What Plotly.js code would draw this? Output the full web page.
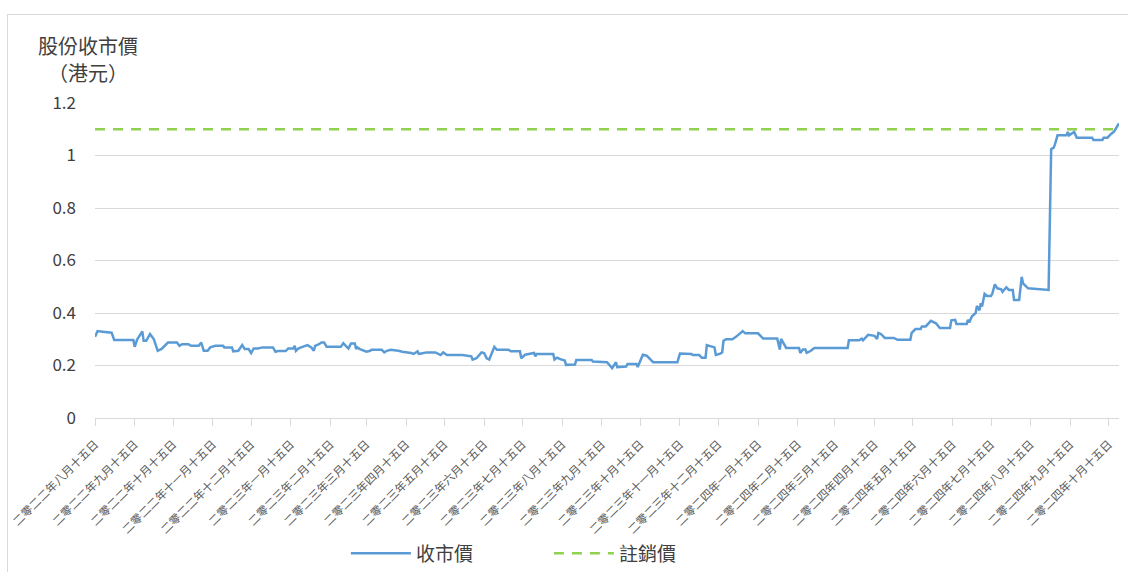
<!DOCTYPE html>
<html>
<head>
<meta charset="utf-8">
<script src="https://cdn.plot.ly/plotly-3.0.1.min.js"></script>
<style>
  html, body { margin: 0; padding: 0; background: #ffffff; }
  #wrap { position: relative; width: 1128px; height: 572px; overflow: hidden; }
  #chart { position: absolute; left: 0; top: 0; width: 1128px; height: 572px; }
  #frame { position: absolute; left: 7px; top: 14px; right: -2px; bottom: -2px;
           border-top: 1px solid #d9d9d9; border-left: 1px solid #d9d9d9; pointer-events: none; }
</style>
</head>
<body>
<div id="wrap"><div id="chart"></div><div id="frame"></div></div>
<script>
// ---- data ----
const dates = [
  '2022-08-15','2022-08-17','2022-08-21','2022-08-28','2022-08-30','2022-09-14','2022-09-15','2022-09-17','2022-09-21','2022-09-22',
  '2022-09-24','2022-09-27','2022-09-30','2022-10-03','2022-10-06','2022-10-11','2022-10-18','2022-10-20','2022-10-22','2022-10-27',
  '2022-10-29','2022-11-04','2022-11-06','2022-11-08','2022-11-11','2022-11-13','2022-11-17','2022-11-23','2022-11-24','2022-11-30',
  '2022-12-01','2022-12-05','2022-12-08','2022-12-10','2022-12-13','2022-12-15','2022-12-17','2022-12-20','2022-12-24','2023-01-01',
  '2023-01-03','2023-01-05','2023-01-11','2023-01-13','2023-01-17','2023-01-18','2023-01-19','2023-01-21','2023-01-28','2023-01-31',
  '2023-02-02','2023-02-03','2023-02-06','2023-02-08','2023-02-10','2023-02-12','2023-02-23','2023-02-25','2023-02-28','2023-03-01',
  '2023-03-03','2023-03-06','2023-03-07','2023-03-08','2023-03-10','2023-03-15','2023-03-18','2023-03-19','2023-03-27','2023-03-29',
  '2023-03-31','2023-04-03','2023-04-09','2023-04-12','2023-04-19','2023-04-21','2023-04-24','2023-04-25','2023-04-27','2023-05-01',
  '2023-05-08','2023-05-10','2023-05-12','2023-05-14','2023-05-17','2023-05-29','2023-06-01','2023-06-05','2023-06-06','2023-06-09',
  '2023-06-13','2023-06-15','2023-06-17','2023-06-19','2023-06-23','2023-06-25','2023-07-04','2023-07-06','2023-07-13','2023-07-14',
  '2023-07-17','2023-07-24','2023-07-25','2023-07-26','2023-08-08','2023-08-09','2023-08-11','2023-08-13','2023-08-17','2023-08-18',
  '2023-08-25','2023-08-26','2023-09-07','2023-09-08','2023-09-19','2023-09-23','2023-09-26','2023-09-27','2023-10-04','2023-10-05',
  '2023-10-12','2023-10-13','2023-10-17','2023-10-20','2023-10-25','2023-11-13','2023-11-15','2023-11-24','2023-11-25','2023-11-30',
  '2023-12-02','2023-12-05','2023-12-06','2023-12-10','2023-12-12','2023-12-13','2023-12-16','2023-12-18','2023-12-19','2023-12-21',
  '2023-12-26','2023-12-29','2024-01-03','2024-01-05','2024-01-15','2024-01-19','2024-01-30','2024-02-01','2024-02-02','2024-02-06',
  '2024-02-16','2024-02-17','2024-02-19','2024-02-21','2024-02-22','2024-02-25','2024-02-28','2024-03-25','2024-03-26','2024-04-03',
  '2024-04-05','2024-04-06','2024-04-10','2024-04-15','2024-04-17','2024-04-18','2024-04-20','2024-04-23','2024-04-30','2024-05-03',
  '2024-05-13','2024-05-14','2024-05-17','2024-05-21','2024-05-22','2024-05-25','2024-05-29','2024-06-02','2024-06-05','2024-06-13',
  '2024-06-14','2024-06-17','2024-06-18','2024-06-26','2024-06-27','2024-06-28','2024-06-30','2024-07-03','2024-07-04','2024-07-06',
  '2024-07-07','2024-07-08','2024-07-10','2024-07-12','2024-07-15','2024-07-16','2024-07-18','2024-07-20','2024-07-23','2024-07-24',
  '2024-07-27','2024-07-29','2024-08-01','2024-08-02','2024-08-06','2024-08-08','2024-08-09','2024-08-13','2024-08-29','2024-08-31',
  '2024-09-02','2024-09-03','2024-09-05','2024-09-12','2024-09-13','2024-09-14','2024-09-17','2024-09-18','2024-09-20','2024-10-02',
  '2024-10-03','2024-10-10','2024-10-11','2024-10-14','2024-10-17','2024-10-19','2024-10-23'
];

const closingPrice = [
  0.31, 0.331, 0.329, 0.325, 0.2975, 0.2975, 0.271, 0.30, 0.33, 0.294,
  0.294, 0.32, 0.30, 0.256, 0.263, 0.2875, 0.2875, 0.275, 0.281, 0.281,
  0.275, 0.275, 0.2875, 0.256, 0.256, 0.269, 0.275, 0.275, 0.269, 0.269,
  0.254, 0.256, 0.278, 0.2625, 0.2625, 0.2475, 0.265, 0.265, 0.269, 0.269,
  0.2525, 0.255, 0.255, 0.265, 0.265, 0.275, 0.256, 0.265, 0.2775, 0.269,
  0.256, 0.275, 0.281, 0.2875, 0.2875, 0.271, 0.271, 0.285, 0.269, 0.265,
  0.284, 0.284, 0.2625, 0.269, 0.2625, 0.2525, 0.256, 0.26, 0.26, 0.25,
  0.256, 0.26, 0.256, 0.2525, 0.2475, 0.244, 0.254, 0.244, 0.246, 0.25,
  0.25, 0.246, 0.24, 0.25, 0.24, 0.24, 0.2375, 0.235, 0.2225, 0.2275,
  0.25, 0.2475, 0.2275, 0.2225, 0.271, 0.26, 0.26, 0.254, 0.254, 0.2275,
  0.241, 0.2475, 0.235, 0.244, 0.244, 0.2225, 0.23, 0.225, 0.219, 0.2025,
  0.204, 0.221, 0.221, 0.215, 0.2125, 0.19, 0.2125, 0.194, 0.196, 0.206,
  0.206, 0.194, 0.241, 0.2375, 0.2125, 0.2125, 0.246, 0.244, 0.24, 0.24,
  0.23, 0.23, 0.2775, 0.2725, 0.269, 0.24, 0.244, 0.25, 0.294, 0.30,
  0.30, 0.31, 0.331, 0.3225, 0.3225, 0.3025, 0.3025, 0.261, 0.301, 0.267,
  0.267, 0.248, 0.261, 0.261, 0.248, 0.255, 0.267, 0.267, 0.296, 0.296,
  0.302, 0.296, 0.317, 0.313, 0.301, 0.324, 0.32, 0.305, 0.305, 0.298,
  0.298, 0.324, 0.339, 0.339, 0.349, 0.349, 0.37, 0.361, 0.343, 0.343,
  0.372, 0.374, 0.358, 0.358, 0.374, 0.364, 0.387, 0.40, 0.427, 0.41,
  0.437, 0.425, 0.473, 0.465, 0.465, 0.473, 0.509, 0.494, 0.49, 0.481,
  0.498, 0.488, 0.488, 0.45, 0.45, 0.538, 0.513, 0.494, 0.488, 1.024,
  1.03, 1.043, 1.077, 1.077, 1.09, 1.077, 1.087, 1.09, 1.068, 1.068,
  1.059, 1.059, 1.068, 1.068, 1.083, 1.09, 1.122
];

const cancellationPrice = 1.1;

const tickDates = [
  '2022-08-15','2022-09-15','2022-10-15','2022-11-15','2022-12-15',
  '2023-01-15','2023-02-15','2023-03-15','2023-04-15','2023-05-15','2023-06-15',
  '2023-07-15','2023-08-15','2023-09-15','2023-10-15','2023-11-15','2023-12-15',
  '2024-01-15','2024-02-15','2024-03-15','2024-04-15','2024-05-15','2024-06-15',
  '2024-07-15','2024-08-15','2024-09-15','2024-10-15'
];
const tickLabels = [
  '二零二二年八月十五日','二零二二年九月十五日','二零二二年十月十五日','二零二二年十一月十五日','二零二二年十二月十五日',
  '二零二三年一月十五日','二零二三年二月十五日','二零二三年三月十五日','二零二三年四月十五日','二零二三年五月十五日','二零二三年六月十五日',
  '二零二三年七月十五日','二零二三年八月十五日','二零二三年九月十五日','二零二三年十月十五日','二零二三年十一月十五日','二零二三年十二月十五日',
  '二零二四年一月十五日','二零二四年二月十五日','二零二四年三月十五日','二零二四年四月十五日','二零二四年五月十五日','二零二四年六月十五日',
  '二零二四年七月十五日','二零二四年八月十五日','二零二四年九月十五日','二零二四年十月十五日'
];

const seriesNames = ['收市價', '註銷價'];
const yTitleLines = ['股份收市價', '（港元）'];
const xRange = ['2022-08-15', '2024-10-23'];

// ---- chart ----
const FONT = 'Noto Sans CJK TC, Noto Sans, sans-serif';

const traces = [
  {
    type: 'scatter', mode: 'lines', name: seriesNames[0],
    x: dates, y: closingPrice,
    line: { color: '#5B9BD5', width: 2.5 }
  },
  {
    type: 'scatter', mode: 'lines', name: seriesNames[1],
    x: [dates[0], dates[dates.length - 1]],
    y: [cancellationPrice, cancellationPrice],
    line: { color: '#92D050', width: 2.5, dash: '10px,8px' }
  }
];

const layout = {
  width: 1128, height: 572,
  margin: { l: 95, r: 9, t: 103, b: 154, autoexpand: false },
  paper_bgcolor: 'rgba(0,0,0,0)', plot_bgcolor: '#ffffff',
  font: { family: FONT, color: '#404040' },
  showlegend: true,
  legend: {
    orientation: 'h', x: 0.245, xanchor: 'left', y: -0.43, yanchor: 'middle',
    font: { family: FONT, size: 19, color: '#404040' },
    itemwidth: 60, entrywidth: 128, traceorder: 'normal'
  },
  xaxis: {
    type: 'date', range: xRange, automargin: false,
    tickmode: 'array', tickvals: tickDates, ticktext: tickLabels,
    tickangle: -45,
    tickfont: { family: FONT, size: 11.5, color: '#595959' },
    ticks: 'outside', ticklen: 7, tickcolor: '#d9d9d9', tickwidth: 1,
    ticklabelstandoff: 7,
    showgrid: false, zeroline: false,
    showline: true, linecolor: '#d9d9d9', linewidth: 1
  },
  yaxis: {
    range: [0, 1.2], tick0: 0, dtick: 0.2, automargin: false,
    tickfont: { family: FONT, size: 17, color: '#404040' },
    showgrid: true, gridcolor: '#d9d9d9', gridwidth: 1,
    zeroline: false, showline: false, ticks: '',
    ticklabelstandoff: 18
  },
  annotations: [
    {
      xref: 'paper', yref: 'paper', x: -0.007, y: 1.184,
      xanchor: 'center', yanchor: 'middle', showarrow: false,
      text: yTitleLines[0], font: { family: FONT, size: 20, color: '#404040' }
    },
    {
      xref: 'paper', yref: 'paper', x: -0.007, y: 1.098,
      xanchor: 'center', yanchor: 'middle', showarrow: false,
      text: yTitleLines[1], font: { family: FONT, size: 20, color: '#404040' }
    }
  ]
};

Plotly.newPlot('chart', traces, layout, { staticPlot: true, displayModeBar: false });
</script>
</body>
</html>
